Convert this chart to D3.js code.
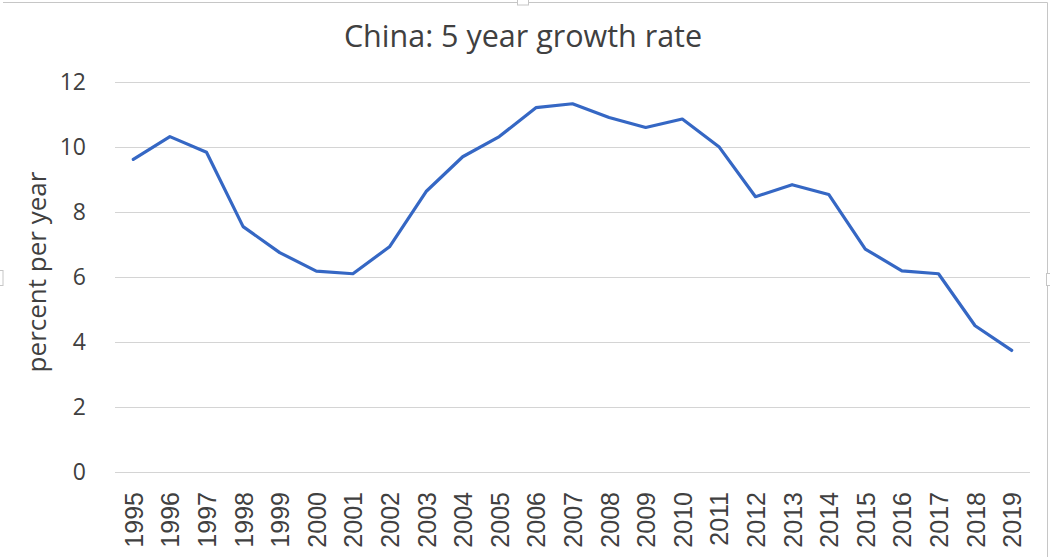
<!DOCTYPE html>
<html>
<head>
<meta charset="utf-8">
<script src="https://cdn.jsdelivr.net/npm/d3@7"></script>
<style>
  html, body { margin: 0; padding: 0; background: #fff; }
  svg { display: block; }
</style>
</head>
<body>
<svg id="chart" width="1050" height="557"></svg>
<script>
// ---- data ----
const years = ["1995","1996","1997","1998","1999","2000","2001","2002","2003","2004","2005","2006","2007","2008","2009","2010","2011","2012","2013","2014","2015","2016","2017","2018","2019"];
const growth = [9.62,10.32,9.84,7.55,6.75,6.18,6.10,6.93,8.63,9.70,10.32,11.21,11.33,10.91,10.60,10.86,10.01,8.47,8.84,8.54,6.86,6.19,6.10,4.50,3.74];
const yTicks = [0,2,4,6,8,10,12];
const title = "China: 5 year growth rate";
const yLabel = "percent per year";

// ---- layout ----
const W = 1050, H = 557;
const plot = { left: 115, right: 1030, top: 82, bottom: 472 };
const svg = d3.select("#chart");

const x = d3.scalePoint().domain(years).range([plot.left, plot.right]).padding(0.5);
const y = d3.scaleLinear().domain([0, 12]).range([plot.bottom, plot.top]);

// frame (chart area border + handles)
const frameColor = "#c6c6c6";
svg.append("line").attr("x1", 3).attr("x2", 1047.5).attr("y1", 2.5).attr("y2", 2.5)
  .attr("stroke", frameColor).attr("stroke-width", 1);
svg.append("line").attr("x1", 1047.5).attr("x2", 1047.5).attr("y1", 2.5).attr("y2", H)
  .attr("stroke", frameColor).attr("stroke-width", 1);
svg.append("rect").attr("x", 517.5).attr("y", -1).attr("width", 11).attr("height", 6)
  .attr("fill", "#fff").attr("stroke", frameColor);
svg.append("rect").attr("x", -1).attr("y", 270.5).attr("width", 4).attr("height", 15)
  .attr("fill", "#fff").attr("stroke", frameColor);
svg.append("rect").attr("x", 1046.5).attr("y", 273.5).attr("width", 5).attr("height", 12)
  .attr("fill", "#fff").attr("stroke", frameColor);

// gridlines
const yAxis = d3.axisLeft(y).tickValues(yTicks).tickSize(-(plot.right - plot.left)).tickPadding(29).tickFormat(d3.format("d"));
const gy = svg.append("g").attr("transform", `translate(${plot.left},0)`).call(yAxis);
gy.select(".domain").remove();
gy.selectAll(".tick line").attr("stroke", "#d4d4d4").attr("stroke-width", 1);
gy.selectAll(".tick text")
  .attr("fill", "#404040")
  .style("font-family", "'Open Sans', sans-serif")
  .style("font-size", "23px");

// x axis labels
const xAxis = d3.axisBottom(x).tickSize(0).tickPadding(0);
const gx = svg.append("g").attr("transform", `translate(0,${plot.bottom})`).call(xAxis);
gx.select(".domain").remove();
gx.selectAll(".tick text")
  .attr("fill", "#404040")
  .style("font-family", "'Liberation Sans', Arial, sans-serif")
  .style("font-size", "25px")
  .attr("text-anchor", "end")
  .attr("transform", "rotate(-90)")
  .attr("x", -20)
  .attr("y", 0)
  .attr("dy", "0.36em");

// line
const line = d3.line().x((d, i) => x(years[i])).y(d => y(d));
svg.append("path").datum(growth)
  .attr("d", line)
  .attr("fill", "none")
  .attr("stroke", "#3567c4")
  .attr("stroke-width", 3.2)
  .attr("stroke-linejoin", "round")
  .attr("stroke-linecap", "round");

// title
svg.append("text")
  .attr("x", 523).attr("y", 47)
  .attr("text-anchor", "middle")
  .attr("fill", "#404040")
  .style("font-family", "'Open Sans', sans-serif")
  .style("font-size", "30.5px")
  .text(title);

// y label
svg.append("text")
  .attr("transform", "translate(46,272) rotate(-90)")
  .attr("text-anchor", "middle")
  .attr("fill", "#404040")
  .style("font-family", "'Open Sans', sans-serif")
  .style("font-size", "26px")
  .text(yLabel);
</script>
</body>
</html>
